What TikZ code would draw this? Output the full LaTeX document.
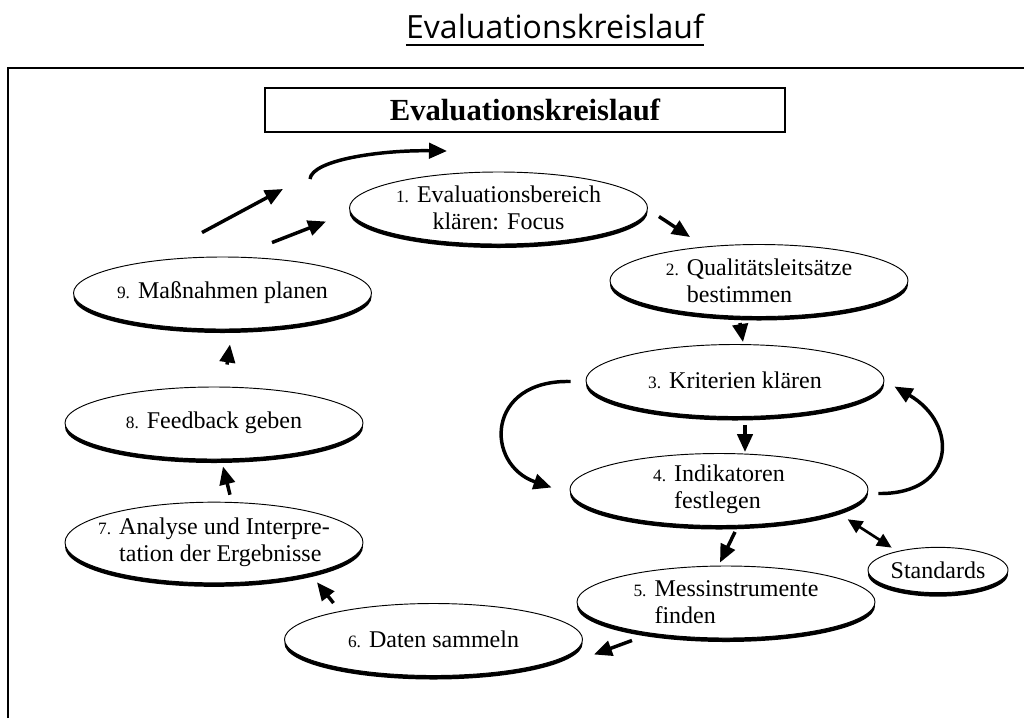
\documentclass[tikz,border=0pt]{standalone}
\usepackage{fontspec}
\setmainfont{Liberation Serif}
\newfontfamily\titlefont{Open Sans}
\usetikzlibrary{shapes.geometric,arrows.meta,calc,shadows}

\newcommand{\nr}[1]{{\fontsize{13}{15}\selectfont #1}}

\tikzset{
  oval/.style={ellipse, draw, line width=0.7pt, fill=white, align=center,
    inner xsep=-14pt, inner ysep=-6pt, minimum width=223.5pt, minimum height=54pt,
    font=\fontsize{18}{20}\selectfont,
    drop shadow={shadow xshift=0pt, shadow yshift=-3pt, opacity=1, fill=black}},
  arr/.style={line width=2.6pt, -{Triangle[length=13.5pt,width=11.5pt]}},
  darr/.style={line width=2pt, {Triangle[length=11pt,width=10pt]}-{Triangle[length=11pt,width=10pt]}}
}

\begin{document}
\begin{tikzpicture}[x=0.75pt,y=0.75pt,yscale=-1,xscale=1]
\useasboundingbox (0,0) rectangle (1024,718);

%Frame
\draw [line width=1.2pt] (8,718) -- (8,68) -- (1024,68);

% Title
\node (title) at (555,38) [anchor=base, inner sep=0pt, font=\titlefont\fontsize{24}{28}\selectfont] {Evaluationskreislauf};
\draw [line width=1.5pt] ($(title.base west)+(0,7)$) -- ($(title.base east)+(0,7)$);

% Heading box
\node (head) at (525,110) [draw, line width=0.9pt, minimum width=390pt, minimum height=33pt, font=\bfseries\fontsize{23}{26}\selectfont] {Evaluationskreislauf};

% Ellipses
\node (e1) at (498.5,208) [oval] {\nr{1.} Evaluationsbereich\\ klären: Focus};
\node (e2) at (759,280.5) [oval, align=left] {\nr{2.} Qualitätsleitsätze\\ \phantom{\nr{2.} }bestimmen};
\node (e3) at (735,380.5) [oval] {\nr{3.} Kriterien klären};
\node (e4) at (719,489.5) [oval, align=left] {\nr{4.} Indikatoren\\ \phantom{\nr{4.} }festlegen};
\node (e5) at (726,602) [oval, align=left] {\nr{5.} Messinstrumente\\ \phantom{\nr{5.} }finden};
\node (std) at (938,570) [oval, minimum width=105pt, minimum height=34pt] {Standards};
\node (e6) at (433.5,639.5) [oval] {\nr{6.} Daten sammeln};
\node (e7) at (214,542.5) [oval, align=left, minimum height=60.5pt] {\nr{7.} Analyse und Interpre-\\ \phantom{\nr{7.} }tation der Ergebnisse};
\node (e8) at (214,423) [oval] {\nr{8.} Feedback geben};
\node (e9) at (222.5,293) [oval] {\nr{9.} Maßnahmen planen};

% Arrows
\coordinate (top1) at (310,179);
\coordinate (top2) at (447,151);
\draw [arr] ($(e9.north)+(-20.5,-24)$) -- ($(top1)+(-27,10)$);
\draw [arr] (top1) .. controls +(2,-19) and +(-67,-1) .. (top2);
\draw [arr] ($(e9.north)+(49.5,-14)$) -- ($(e1.west)+(-23,13.5)$);
\draw [arr] ($(e1.east)+(11,8.5)$) -- ($(e2.north)+(-69,-7)$);
\draw [arr] ($(e2.south)+(-19,6)$) -- ($(e3.north)+(8,-2)$);
\draw [arr] ($(e3.south)+(10,8)$) -- ($(e4.north)+(26,-1)$);
\draw [arr] ($(e3.west)+(-15,1)$) .. controls +(-85,-2) and +(-67,-23) .. ($(e4.west)+(-18,-2)$);
\draw [arr] ($(e4.east)+(10,4)$) .. controls +(77,1) and +(65,38) .. ($(e3.east)+(10,6)$);
\draw [arr] ($(e4.south)+(16,6)$) -- ($(e5.north)+(-6,-3)$);
\draw [darr] ($(e4.south east)+(23,4)$) -- ($(std.north west)+(3.5,-6)$);
\draw [arr] ($(e5.south)+(-94,2)$) -- ($(e6.east)+(11,15)$);
\draw [arr] ($(e6.north)+(-100,0)$) -- ($(e7.south)+(103,-1)$);
\draw [arr] ($(e7.north)+(16,-7)$) -- ($(e8.south)+(9,7)$);
\draw [arr] ($(e8.north)+(13,-22)$) -- ($(e9.south)+(7.5,15)$);

\end{tikzpicture}
\end{document}
